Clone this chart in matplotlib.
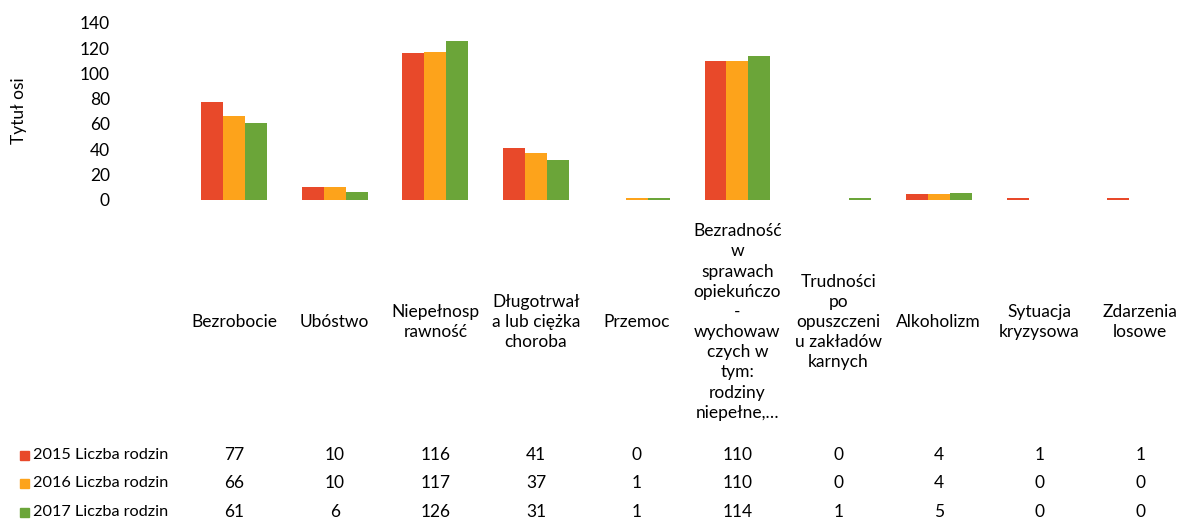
import matplotlib
matplotlib.use('Agg')
import matplotlib.pyplot as plt
from matplotlib.transforms import blended_transform_factory
import numpy as np

plt.rcParams['font.family'] = ['Lato', 'DejaVu Sans']

# data
categories = ['Bezrobocie', 'Ubóstwo', 'Niepełnosp\nrawność',
              'Długotrwał\na lub ciężka\nchoroba', 'Przemoc',
              'Bezradność\nw\nsprawach\nopiekuńczo\n-\nwychowaw\nczych w\ntym:\nrodziny\nniepełne,…',
              'Trudności\npo\nopuszczeni\nu zakładów\nkarnych',
              'Alkoholizm', 'Sytuacja\nkryzysowa', 'Zdarzenia\nlosowe']
series_names = ['2015 Liczba rodzin', '2016 Liczba rodzin', '2017 Liczba rodzin']
v2015 = [77, 10, 116, 41, 0, 110, 0, 4, 1, 1]
v2016 = [66, 10, 117, 37, 1, 110, 0, 4, 0, 0]
v2017 = [61, 6, 126, 31, 1, 114, 1, 5, 0, 0]
colors = ['#E8492A', '#FDA31B', '#6BA539']
yticks = [0, 20, 40, 60, 80, 100, 120, 140]

W, H = 1181, 522
fig = plt.figure(figsize=(W / 100, H / 100), dpi=100)
ax_left = 183.6 / W
ax = fig.add_axes([ax_left, 1 - 199.5 / H, 1 - ax_left, (199.5 - 23) / H])

x = np.arange(len(categories))
bw = 0.218
for i, vals in enumerate([v2015, v2016, v2017]):
    ax.bar(x + (i - 1) * bw, vals, width=bw, color=colors[i], linewidth=0)

ax.set_xlim(-0.5, 9.405)
ax.set_ylim(0, 140)
ax.set_yticks(yticks)
ax.set_xticks([])
ax.tick_params(axis='y', length=0, pad=53, labelsize=12.5)
for s in ax.spines.values():
    s.set_visible(False)

fig.text(19 / W, 1 - 111 / H, 'Tytuł osi', rotation=90, ha='center', va='center', fontsize=12.5)

tr = blended_transform_factory(ax.transData, fig.transFigure)
for xi, lab in zip(x, categories):
    ax.text(xi, 1 - 322 / H, lab, transform=tr, ha='center', va='center',
            fontsize=12.5, linespacing=1.32, clip_on=False)

# data table under the chart
row_y = [455, 483, 512]
for name, vals, c, ry in zip(series_names, [v2015, v2016, v2017], colors, row_y):
    yf = 1 - ry / H
    fig.patches.append(plt.Rectangle((20 / W, yf - 4.5 / H), 9 / W, 9 / H,
                                     transform=fig.transFigure, color=c))
    fig.text(33 / W, yf, name, ha='left', va='center', fontsize=11.7)
    for xi, v in zip(x, vals):
        ax.text(xi, yf, str(v), transform=tr, ha='center', va='center',
                fontsize=12.5, clip_on=False)

fig.savefig('out.png', dpi=100)
